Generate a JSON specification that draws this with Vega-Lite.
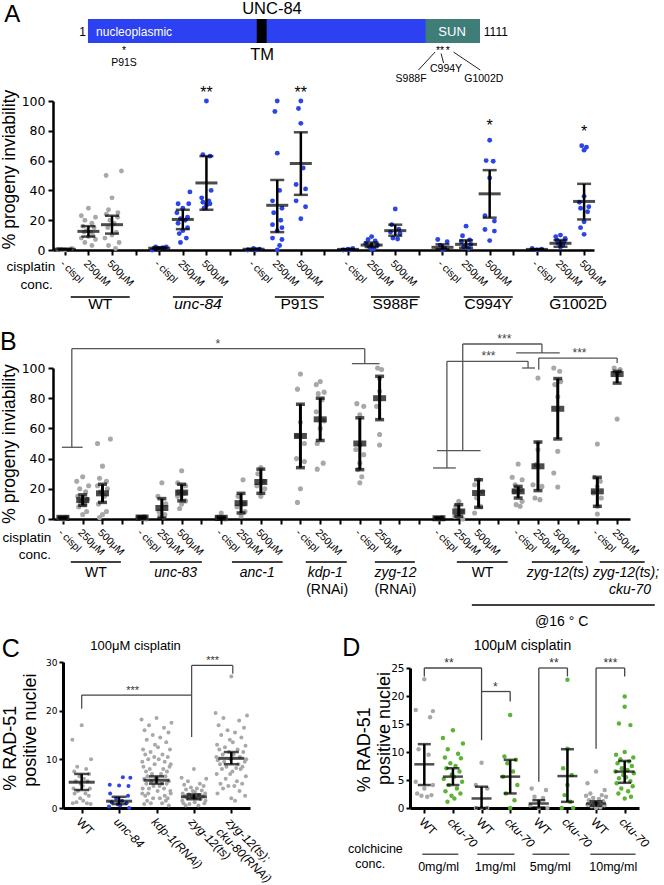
{
"$schema":"https://vega.github.io/schema/vega-lite/v6.json",
"autosize":{"type":"none"},
"padding":{"left":53,"top":0,"right":611,"bottom":885},
"background":"white",
"bounds":"flush",
"spacing":0,
"config":{"view":{"stroke":null},"font":"Liberation Sans","axis":{"grid":false,"domainColor":"#000","tickColor":"#000","labelColor":"#000","titleColor":"#000","titleFontWeight":"normal","labelOverlap":false,"labelFlush":false,"labelBound":false},"text":{"font":"Liberation Sans","color":"#000"}},
"datasets":{
"aPts":[
{"x":0,"y":0,"g":"w"},{"x":-0.3,"y":0.5,"g":"w"},{"x":0.3,"y":1,"g":"w"},{"x":-0.15,"y":0.3,"g":"w"},
{"x":1,"y":28,"g":"w"},{"x":0.7,"y":23,"g":"w"},{"x":1.3,"y":22,"g":"w"},{"x":0.85,"y":20,"g":"w"},{"x":1.15,"y":18,"g":"w"},{"x":0.76,"y":16,"g":"w"},{"x":1.24,"y":15,"g":"w"},{"x":0.91,"y":13,"g":"w"},{"x":1.09,"y":12,"g":"w"},{"x":0.82,"y":12,"g":"w"},{"x":1.18,"y":10,"g":"w"},{"x":1,"y":9,"g":"w"},{"x":0.7,"y":8,"g":"w"},{"x":1.3,"y":7,"g":"w"},{"x":0.85,"y":5,"g":"w"},{"x":1.15,"y":3,"g":"w"},
{"x":2.4,"y":53,"g":"w"},{"x":1.75,"y":50,"g":"w"},{"x":2,"y":35,"g":"w"},{"x":1.85,"y":27,"g":"w"},{"x":2.25,"y":25,"g":"w"},{"x":1.76,"y":24,"g":"w"},{"x":2.24,"y":22,"g":"w"},{"x":1.91,"y":20,"g":"w"},{"x":2.09,"y":18,"g":"w"},{"x":1.82,"y":15,"g":"w"},{"x":2.18,"y":12,"g":"w"},{"x":2,"y":10,"g":"w"},{"x":1.7,"y":8,"g":"w"},{"x":2.3,"y":5,"g":"w"},{"x":1.85,"y":3,"g":"w"},{"x":2.15,"y":1,"g":"w"},
{"x":3.7,"y":0,"g":"u"},{"x":4,"y":1,"g":"u"},{"x":4.3,"y":2,"g":"u"},{"x":3.85,"y":2,"g":"u"},{"x":4.15,"y":1.5,"g":"u"},
{"x":5.3,"y":39,"g":"u"},{"x":4.8,"y":31,"g":"u"},{"x":5.25,"y":31,"g":"u"},{"x":5,"y":28,"g":"u"},{"x":4.75,"y":25,"g":"u"},{"x":5.2,"y":22,"g":"u"},{"x":4.9,"y":21,"g":"u"},{"x":5.1,"y":20,"g":"u"},{"x":4.8,"y":18,"g":"u"},{"x":5.2,"y":15,"g":"u"},{"x":5,"y":13,"g":"u"},{"x":4.85,"y":11,"g":"u"},{"x":5.15,"y":8,"g":"u"},{"x":4.9,"y":5,"g":"u"},
{"x":6,"y":100,"g":"u"},{"x":5.85,"y":64,"g":"u"},{"x":6.15,"y":63,"g":"u"},{"x":6.2,"y":40,"g":"u"},{"x":5.8,"y":35,"g":"u"},{"x":6.1,"y":33,"g":"u"},{"x":5.85,"y":32,"g":"u"},{"x":6.15,"y":31,"g":"u"},{"x":6,"y":30,"g":"u"},{"x":5.9,"y":28,"g":"u"},
{"x":7.75,"y":0,"g":"u"},{"x":8,"y":1,"g":"u"},{"x":8.25,"y":0.5,"g":"u"},{"x":8.1,"y":0,"g":"u"},
{"x":9,"y":100,"g":"u"},{"x":8.9,"y":93,"g":"u"},{"x":9,"y":65,"g":"u"},{"x":9.1,"y":40,"g":"u"},{"x":8.8,"y":33,"g":"u"},{"x":9.2,"y":28,"g":"u"},{"x":8.85,"y":25,"g":"u"},{"x":9.15,"y":20,"g":"u"},{"x":8.8,"y":17,"g":"u"},{"x":9.2,"y":15,"g":"u"},{"x":9,"y":13,"g":"u"},{"x":8.8,"y":8,"g":"u"},{"x":9.2,"y":7,"g":"u"},{"x":9.1,"y":3,"g":"u"},{"x":9,"y":0,"g":"u"},
{"x":10,"y":100,"g":"u"},{"x":9.9,"y":95,"g":"u"},{"x":10,"y":85,"g":"u"},{"x":10.1,"y":55,"g":"u"},{"x":9.8,"y":44,"g":"u"},{"x":10.2,"y":41,"g":"u"},{"x":9.8,"y":33,"g":"u"},{"x":10.2,"y":29,"g":"u"},{"x":10,"y":21,"g":"u"},
{"x":11.8,"y":0,"g":"u"},{"x":12,"y":0.5,"g":"u"},{"x":12.2,"y":1,"g":"u"},{"x":12.1,"y":0,"g":"u"},
{"x":13,"y":9,"g":"u"},{"x":12.85,"y":7,"g":"u"},{"x":13.15,"y":6,"g":"u"},{"x":12.75,"y":4.5,"g":"u"},{"x":13.25,"y":3.3,"g":"u"},{"x":12.9,"y":2.2,"g":"u"},{"x":13.1,"y":1,"g":"u"},{"x":13,"y":0.5,"g":"u"},
{"x":14,"y":27.5,"g":"u"},{"x":13.85,"y":17,"g":"u"},{"x":14.15,"y":14,"g":"u"},{"x":13.8,"y":12,"g":"u"},{"x":14.2,"y":11,"g":"u"},{"x":13.9,"y":8,"g":"u"},{"x":14.1,"y":7.4,"g":"u"},
{"x":15.8,"y":7,"g":"u"},{"x":16.2,"y":5.6,"g":"u"},{"x":15.9,"y":3.3,"g":"u"},{"x":16.1,"y":1,"g":"u"},{"x":16,"y":0,"g":"u"},
{"x":17,"y":16,"g":"u"},{"x":16.85,"y":9.6,"g":"u"},{"x":17.15,"y":6.7,"g":"u"},{"x":16.8,"y":5.6,"g":"u"},{"x":17.2,"y":3.8,"g":"u"},{"x":16.9,"y":2.2,"g":"u"},{"x":17.1,"y":1,"g":"u"},
{"x":18,"y":73.7,"g":"u"},{"x":17.85,"y":60,"g":"u"},{"x":18.15,"y":59.6,"g":"u"},{"x":18,"y":48.4,"g":"u"},{"x":17.8,"y":23,"g":"u"},{"x":18.2,"y":19.4,"g":"u"},{"x":17.8,"y":13.8,"g":"u"},{"x":18.2,"y":12.7,"g":"u"},{"x":18,"y":6.3,"g":"u"},
{"x":19.8,"y":1,"g":"u"},{"x":20,"y":0,"g":"u"},{"x":20.2,"y":0.5,"g":"u"},
{"x":21,"y":10,"g":"u"},{"x":20.8,"y":9,"g":"u"},{"x":21.2,"y":7.8,"g":"u"},{"x":20.85,"y":6.7,"g":"u"},{"x":21.15,"y":5.6,"g":"u"},{"x":20.9,"y":4.5,"g":"u"},{"x":21.1,"y":3.3,"g":"u"},{"x":21,"y":2,"g":"u"},
{"x":21.9,"y":70,"g":"u"},{"x":22.1,"y":69,"g":"u"},{"x":22,"y":67,"g":"u"},{"x":22,"y":36,"g":"u"},{"x":21.8,"y":32,"g":"u"},{"x":22.2,"y":29,"g":"u"},{"x":21.85,"y":28,"g":"u"},{"x":22.15,"y":25.7,"g":"u"},{"x":22,"y":19,"g":"u"},{"x":21.85,"y":15,"g":"u"},{"x":22,"y":10.5,"g":"u"}
],
"aSum":[{"x":0,"m":0.5,"lo":0.2,"hi":0.8},{"x":1,"m":12.5,"lo":9,"hi":16},{"x":2,"m":17,"lo":11,"hi":23},{"x":4,"m":1.2,"lo":0.6,"hi":1.8},{"x":5,"m":20.5,"lo":14,"hi":27},{"x":6,"m":45,"lo":27,"hi":63},{"x":8,"m":0.5,"lo":0.2,"hi":0.8},{"x":9,"m":30,"lo":12,"hi":47},{"x":10,"m":58,"lo":37,"hi":79},{"x":12,"m":0.4,"lo":0.2,"hi":0.6},{"x":13,"m":3.3,"lo":2,"hi":5},{"x":14,"m":13,"lo":9.6,"hi":17},{"x":16,"m":1.8,"lo":0.5,"hi":3.8},{"x":17,"m":3.8,"lo":1.5,"hi":6.5},{"x":18,"m":37.7,"lo":21.7,"hi":53.6},{"x":20,"m":0.4,"lo":0.2,"hi":0.6},{"x":21,"m":4.5,"lo":2.2,"hi":6.7},{"x":22,"m":32.6,"lo":20.5,"hi":44.4}],
"bPts":[
{"x":-0.2,"y":0.5,"g":"w"},{"x":0,"y":0,"g":"w"},{"x":0.2,"y":1,"g":"w"},{"x":0.1,"y":0.5,"g":"w"},
{"x":1,"y":28,"g":"w"},{"x":0.7,"y":25,"g":"w"},{"x":1.3,"y":22,"g":"w"},{"x":0.85,"y":20,"g":"w"},{"x":1.15,"y":18,"g":"w"},{"x":0.75,"y":15,"g":"w"},{"x":1.25,"y":13,"g":"w"},{"x":0.9,"y":12,"g":"w"},{"x":1.1,"y":10,"g":"w"},{"x":0.8,"y":8,"g":"w"},{"x":1.2,"y":5,"g":"w"},{"x":1,"y":3,"g":"w"},
{"x":2.4,"y":53,"g":"w"},{"x":1.75,"y":50,"g":"w"},{"x":2,"y":35,"g":"w"},{"x":1.85,"y":27,"g":"w"},{"x":2.2,"y":25,"g":"w"},{"x":1.75,"y":22,"g":"w"},{"x":2.25,"y":20,"g":"w"},{"x":1.9,"y":18,"g":"w"},{"x":2.1,"y":15,"g":"w"},{"x":1.8,"y":10,"g":"w"},{"x":2.2,"y":5,"g":"w"},{"x":2,"y":3,"g":"w"},{"x":1.85,"y":1,"g":"w"},
{"x":3.8,"y":1,"g":"w"},{"x":4,"y":0.5,"g":"w"},{"x":4.2,"y":0,"g":"w"},{"x":4.1,"y":1.5,"g":"w"},
{"x":5,"y":24,"g":"w"},{"x":4.8,"y":15,"g":"w"},{"x":5.2,"y":10,"g":"w"},{"x":4.85,"y":5,"g":"w"},{"x":5.15,"y":3,"g":"w"},{"x":4.9,"y":2,"g":"w"},{"x":5.1,"y":1,"g":"w"},
{"x":6,"y":32,"g":"w"},{"x":5.8,"y":24,"g":"w"},{"x":6.2,"y":22,"g":"w"},{"x":5.85,"y":18,"g":"w"},{"x":6.15,"y":17,"g":"w"},{"x":5.8,"y":15,"g":"w"},{"x":6.2,"y":12,"g":"w"},{"x":6,"y":10,"g":"w"},{"x":5.9,"y":7,"g":"w"},
{"x":8,"y":4,"g":"w"},{"x":7.8,"y":1,"g":"w"},{"x":8.2,"y":0,"g":"w"},
{"x":9.1,"y":26,"g":"w"},{"x":8.85,"y":15,"g":"w"},{"x":9.15,"y":10,"g":"w"},{"x":8.8,"y":8,"g":"w"},{"x":9.2,"y":5,"g":"w"},{"x":9,"y":2,"g":"w"},
{"x":10,"y":34,"g":"w"},{"x":9.85,"y":30,"g":"w"},{"x":10.15,"y":25,"g":"w"},{"x":9.8,"y":22,"g":"w"},{"x":10.2,"y":20,"g":"w"},{"x":10,"y":15,"g":"w"},
{"x":12,"y":96,"g":"w"},{"x":11.85,"y":86,"g":"w"},{"x":12,"y":64,"g":"w"},{"x":11.8,"y":55,"g":"w"},{"x":12.2,"y":50,"g":"w"},{"x":11.8,"y":40,"g":"w"},{"x":12.2,"y":38,"g":"w"},{"x":12,"y":20,"g":"w"},{"x":11.85,"y":11,"g":"w"},
{"x":13,"y":91,"g":"w"},{"x":12.8,"y":89,"g":"w"},{"x":13.2,"y":84,"g":"w"},{"x":12.9,"y":83,"g":"w"},{"x":13.1,"y":79,"g":"w"},{"x":12.8,"y":71,"g":"w"},{"x":13.2,"y":65,"g":"w"},{"x":13,"y":60,"g":"w"},{"x":12.85,"y":50,"g":"w"},{"x":13.15,"y":37,"g":"w"},{"x":12.85,"y":33,"g":"w"},
{"x":14.85,"y":76.4,"g":"w"},{"x":15.2,"y":74.6,"g":"w"},{"x":15,"y":69,"g":"w"},{"x":15,"y":49,"g":"w"},{"x":14.8,"y":46,"g":"w"},{"x":15.2,"y":42.6,"g":"w"},{"x":15,"y":37,"g":"w"},{"x":14.9,"y":32.7,"g":"w"},{"x":15.1,"y":28,"g":"w"},{"x":15,"y":24,"g":"w"},
{"x":15.9,"y":100,"g":"w"},{"x":16.1,"y":99,"g":"w"},{"x":16,"y":93,"g":"w"},{"x":16,"y":84.5,"g":"w"},{"x":15.85,"y":74.6,"g":"w"},{"x":16,"y":56,"g":"w"},{"x":16,"y":49,"g":"w"},
{"x":18.85,"y":0.5,"g":"w"},{"x":19,"y":0,"g":"w"},{"x":19.15,"y":1,"g":"w"},
{"x":20,"y":11.7,"g":"w"},{"x":19.85,"y":8.4,"g":"w"},{"x":20.15,"y":5,"g":"w"},{"x":20,"y":2.9,"g":"w"},{"x":19.8,"y":1.8,"g":"w"},{"x":20.2,"y":0,"g":"w"},
{"x":21,"y":26,"g":"w"},{"x":20.8,"y":22.7,"g":"w"},{"x":21.2,"y":18.3,"g":"w"},{"x":20.9,"y":14,"g":"w"},{"x":21.1,"y":8.4,"g":"w"},{"x":20.8,"y":4,"g":"w"},
{"x":23,"y":36.4,"g":"w"},{"x":22.7,"y":27.6,"g":"w"},{"x":23.2,"y":26,"g":"w"},{"x":22.85,"y":22.7,"g":"w"},{"x":23.15,"y":19.4,"g":"w"},{"x":22.8,"y":18.3,"g":"w"},{"x":23.2,"y":11.7,"g":"w"},{"x":22.9,"y":9.5,"g":"w"},{"x":23.1,"y":8.4,"g":"w"},
{"x":24,"y":93.4,"g":"w"},{"x":24,"y":50.3,"g":"w"},{"x":24,"y":46,"g":"w"},{"x":23.9,"y":36,"g":"w"},{"x":23.75,"y":22.7,"g":"w"},{"x":24.2,"y":21.6,"g":"w"},{"x":23.85,"y":13.9,"g":"w"},{"x":24.1,"y":12.8,"g":"w"},
{"x":24.8,"y":100,"g":"w"},{"x":25.1,"y":97.8,"g":"w"},{"x":25.15,"y":91,"g":"w"},{"x":24.85,"y":89,"g":"w"},{"x":25,"y":81,"g":"w"},{"x":25,"y":44.8,"g":"w"},{"x":24.8,"y":30.5,"g":"w"},{"x":25,"y":21.2,"g":"w"},
{"x":27,"y":49.7,"g":"w"},{"x":26.85,"y":27.6,"g":"w"},{"x":27.15,"y":25,"g":"w"},{"x":27,"y":21.6,"g":"w"},{"x":26.8,"y":17.2,"g":"w"},{"x":27.2,"y":13.9,"g":"w"},{"x":27,"y":8.4,"g":"w"},{"x":27,"y":3.3,"g":"w"},
{"x":27.85,"y":100,"g":"w"},{"x":28.15,"y":98.9,"g":"w"},{"x":28,"y":96.7,"g":"w"},{"x":28,"y":66.2,"g":"w"}
],
"bSum":[{"x":0,"m":0.8,"lo":0.5,"hi":1.1},{"x":1,"m":12.5,"lo":9,"hi":16},{"x":2,"m":17,"lo":11,"hi":23},{"x":4,"m":1,"lo":0.5,"hi":1.5},{"x":5,"m":7.3,"lo":0.5,"hi":13.5},{"x":6,"m":17.5,"lo":12,"hi":23},{"x":8,"m":0.8,"lo":0.3,"hi":1.3},{"x":9,"m":10.5,"lo":4,"hi":17},{"x":10,"m":24.5,"lo":17,"hi":33},{"x":12,"m":55,"lo":34,"hi":76},{"x":13,"m":66,"lo":52,"hi":80},{"x":15,"m":50,"lo":32.7,"hi":67},{"x":16,"m":80,"lo":65.8,"hi":94.5},{"x":19,"m":0.5,"lo":0.2,"hi":0.8},{"x":20,"m":5,"lo":1.8,"hi":9.5},{"x":21,"m":17.2,"lo":7.7,"hi":26},{"x":23,"m":18.3,"lo":13.9,"hi":21.6},{"x":24,"m":34.9,"lo":18.8,"hi":51},{"x":25,"m":73,"lo":53,"hi":93},{"x":27,"m":18.3,"lo":8.4,"hi":27.6},{"x":28,"m":96,"lo":90,"hi":97.8}],
"bBr":[{"x":0.45,"x2":15.25,"y":112.8,"y2":112.8},{"x":0.45,"x2":0.45,"y":112.8,"y2":47.5},{"x":-0.05,"x2":1.0,"y":47.5,"y2":47.5},{"x":15.25,"x2":15.25,"y":112.8,"y2":102.9},{"x":14.6,"x2":16.0,"y":102.9,"y2":102.9},{"x":20.2,"x2":24.2,"y":115.9,"y2":115.9},{"x":20.2,"x2":20.2,"y":115.9,"y2":45.3},{"x":18.9,"x2":21.1,"y":45.3,"y2":45.3},{"x":24.2,"x2":24.2,"y":115.9,"y2":110},{"x":22.9,"x2":25.1,"y":110,"y2":110},{"x":19.4,"x2":23.5,"y":104.4,"y2":104.4},{"x":19.4,"x2":19.4,"y":104.4,"y2":33.8},{"x":18.7,"x2":19.85,"y":33.8,"y2":33.8},{"x":23.5,"x2":23.5,"y":104.4,"y2":100},{"x":23.2,"x2":23.85,"y":100,"y2":100},{"x":24.04,"x2":28.0,"y":106.6,"y2":106.6},{"x":24.04,"x2":24.04,"y":106.6,"y2":98.9},{"x":28.0,"x2":28.0,"y":106.6,"y2":103.3}],
"cPts":[
{"x":0,"y":17,"g":"w"},{"x":-0.25,"y":14,"g":"w"},{"x":0.25,"y":10,"g":"w"},{"x":-0.12,"y":8.5,"g":"w"},{"x":0.12,"y":8,"g":"w"},{"x":-0.2,"y":7.5,"g":"w"},{"x":0.2,"y":7,"g":"w"},{"x":-0.06,"y":6.5,"g":"w"},{"x":0.06,"y":6,"g":"w"},{"x":-0.16,"y":5.5,"g":"w"},{"x":0.16,"y":5.5,"g":"w"},{"x":-0.03,"y":5,"g":"w"},{"x":0.03,"y":4.5,"g":"w"},{"x":-0.22,"y":4,"g":"w"},{"x":0.22,"y":4,"g":"w"},{"x":-0.1,"y":3.5,"g":"w"},{"x":0.1,"y":3,"g":"w"},{"x":-0.19,"y":3,"g":"w"},{"x":0.19,"y":2.5,"g":"w"},{"x":-0.04,"y":2,"g":"w"},{"x":0.04,"y":1.5,"g":"w"},{"x":-0.14,"y":1.2,"g":"w"},{"x":0.14,"y":1,"g":"w"},{"x":-0.24,"y":1,"g":"w"},{"x":0.24,"y":0.8,"g":"w"},
{"x":1.1,"y":6.3,"g":"u"},{"x":1.3,"y":6.2,"g":"u"},{"x":0.75,"y":4.8,"g":"u"},{"x":1,"y":4.6,"g":"u"},{"x":1.25,"y":4.5,"g":"u"},{"x":0.76,"y":3,"g":"u"},{"x":1.24,"y":2.5,"g":"u"},{"x":0.92,"y":2,"g":"u"},{"x":1.08,"y":1.5,"g":"u"},{"x":0.8,"y":1.2,"g":"u"},{"x":1.2,"y":1,"g":"u"},{"x":0.97,"y":0.7,"g":"u"},{"x":1.03,"y":0.5,"g":"u"},{"x":0.73,"y":0.3,"g":"u"},{"x":1.27,"y":0,"g":"u"},
{"x":2,"y":18.5,"g":"w"},{"x":1.6,"y":18.2,"g":"w"},{"x":2.4,"y":17.5,"g":"w"},{"x":1.8,"y":17,"g":"w"},{"x":2.2,"y":16.5,"g":"w"},{"x":1.68,"y":16,"g":"w"},{"x":2.32,"y":15.5,"g":"w"},{"x":1.9,"y":15,"g":"w"},{"x":2.1,"y":14.5,"g":"w"},{"x":1.74,"y":14,"g":"w"},{"x":2.26,"y":13.5,"g":"w"},{"x":1.96,"y":13,"g":"w"},{"x":2.04,"y":12.5,"g":"w"},{"x":1.64,"y":12,"g":"w"},{"x":2.36,"y":12,"g":"w"},{"x":1.84,"y":11.5,"g":"w"},{"x":2.16,"y":11,"g":"w"},{"x":1.7,"y":11,"g":"w"},{"x":2.3,"y":10.5,"g":"w"},{"x":1.94,"y":10.5,"g":"w"},{"x":2.06,"y":10,"g":"w"},{"x":1.78,"y":10,"g":"w"},{"x":2.22,"y":9.5,"g":"w"},{"x":1.62,"y":9.5,"g":"w"},{"x":2.38,"y":9,"g":"w"},
{"x":1.95,"y":9,"g":"w"},{"x":1.65,"y":8.5,"g":"w"},{"x":2.35,"y":8.5,"g":"w"},{"x":1.82,"y":8,"g":"w"},{"x":2.18,"y":8,"g":"w"},{"x":1.72,"y":7.5,"g":"w"},{"x":2.28,"y":7.5,"g":"w"},{"x":1.88,"y":7,"g":"w"},{"x":2.12,"y":7,"g":"w"},{"x":1.76,"y":6.5,"g":"w"},{"x":2.24,"y":6.5,"g":"w"},{"x":2.02,"y":6,"g":"w"},{"x":1.98,"y":6,"g":"w"},{"x":1.67,"y":6,"g":"w"},{"x":2.33,"y":5.5,"g":"w"},{"x":1.86,"y":5.5,"g":"w"},{"x":2.14,"y":5,"g":"w"},{"x":1.73,"y":5,"g":"w"},{"x":2.27,"y":5,"g":"w"},{"x":1.92,"y":4.5,"g":"w"},{"x":2.08,"y":4.5,"g":"w"},{"x":1.8,"y":4,"g":"w"},{"x":2.2,"y":4,"g":"w"},{"x":1.63,"y":4,"g":"w"},{"x":2.37,"y":3.5,"g":"w"},
{"x":2.03,"y":3.5,"g":"w"},{"x":1.62,"y":3,"g":"w"},{"x":2.38,"y":3,"g":"w"},{"x":1.78,"y":3,"g":"w"},{"x":2.22,"y":2.5,"g":"w"},{"x":1.7,"y":2.5,"g":"w"},{"x":2.3,"y":2,"g":"w"},{"x":1.91,"y":2,"g":"w"},{"x":2.09,"y":2,"g":"w"},{"x":1.75,"y":1.5,"g":"w"},{"x":2.25,"y":1.5,"g":"w"},{"x":1.85,"y":1,"g":"w"},{"x":2.15,"y":1,"g":"w"},{"x":1.67,"y":0.8,"g":"w"},{"x":2.33,"y":0.5,"g":"w"},
{"x":3,"y":8,"g":"w"},{"x":2.67,"y":6.2,"g":"w"},{"x":3.33,"y":6,"g":"w"},{"x":2.84,"y":5.5,"g":"w"},{"x":3.16,"y":5,"g":"w"},{"x":2.74,"y":4.8,"g":"w"},{"x":3.26,"y":4.5,"g":"w"},{"x":2.92,"y":4.2,"g":"w"},{"x":3.08,"y":4,"g":"w"},{"x":2.79,"y":3.8,"g":"w"},{"x":3.21,"y":3.6,"g":"w"},{"x":2.97,"y":3.5,"g":"w"},{"x":3.03,"y":3.3,"g":"w"},{"x":2.7,"y":3,"g":"w"},{"x":3.3,"y":3,"g":"w"},{"x":2.87,"y":2.8,"g":"w"},{"x":3.13,"y":2.7,"g":"w"},{"x":2.75,"y":2.5,"g":"w"},{"x":3.25,"y":2.5,"g":"w"},{"x":2.95,"y":2.2,"g":"w"},{"x":3.05,"y":2,"g":"w"},{"x":2.82,"y":2,"g":"w"},{"x":3.18,"y":1.8,"g":"w"},{"x":2.69,"y":1.5,"g":"w"},{"x":3.31,"y":1.5,"g":"w"},{"x":3.02,"y":1.2,"g":"w"},{"x":2.72,"y":1,"g":"w"},{"x":3.28,"y":1,"g":"w"},{"x":2.88,"y":0.8,"g":"w"},{"x":3.12,"y":0.5,"g":"w"},{"x":2.78,"y":0.5,"g":"w"},
{"x":4,"y":27,"g":"w"},{"x":3.58,"y":19.5,"g":"w"},{"x":4.42,"y":19,"g":"w"},{"x":3.79,"y":18.5,"g":"w"},{"x":4.21,"y":18,"g":"w"},{"x":3.66,"y":17,"g":"w"},{"x":4.34,"y":16.5,"g":"w"},{"x":3.9,"y":16,"g":"w"},{"x":4.1,"y":15.5,"g":"w"},{"x":3.73,"y":15,"g":"w"},{"x":4.27,"y":14.5,"g":"w"},{"x":3.96,"y":14,"g":"w"},{"x":4.04,"y":13.5,"g":"w"},{"x":3.62,"y":13,"g":"w"},{"x":4.38,"y":12.8,"g":"w"},{"x":3.83,"y":12.5,"g":"w"},{"x":4.17,"y":12,"g":"w"},{"x":3.68,"y":12,"g":"w"},{"x":4.32,"y":11.5,"g":"w"},{"x":3.94,"y":11.5,"g":"w"},{"x":4.06,"y":11,"g":"w"},{"x":3.77,"y":11,"g":"w"},{"x":4.23,"y":10.5,"g":"w"},{"x":3.6,"y":10.5,"g":"w"},{"x":4.4,"y":10,"g":"w"},
{"x":3.98,"y":10,"g":"w"},{"x":3.64,"y":9.8,"g":"w"},{"x":4.36,"y":9.5,"g":"w"},{"x":3.81,"y":9.5,"g":"w"},{"x":4.19,"y":9,"g":"w"},{"x":3.7,"y":9,"g":"w"},{"x":4.3,"y":8.5,"g":"w"},{"x":3.87,"y":8.5,"g":"w"},{"x":4.13,"y":8.2,"g":"w"},{"x":3.75,"y":8,"g":"w"},{"x":4.25,"y":8,"g":"w"},{"x":4.03,"y":7.5,"g":"w"},{"x":3.97,"y":7,"g":"w"},{"x":3.61,"y":7,"g":"w"},{"x":4.39,"y":6.5,"g":"w"},{"x":3.85,"y":6,"g":"w"},{"x":4.15,"y":5.5,"g":"w"},{"x":3.71,"y":5,"g":"w"},{"x":4.29,"y":5,"g":"w"},{"x":3.92,"y":4.5,"g":"w"},{"x":4.08,"y":4.5,"g":"w"},{"x":3.78,"y":4,"g":"w"},{"x":4.22,"y":3.5,"g":"w"},{"x":3.63,"y":3,"g":"w"},{"x":4.37,"y":2.5,"g":"w"},{"x":4,"y":2,"g":"w"},{"x":4.1,"y":1.5,"g":"w"}
],
"cSum":[{"x":0,"m":5.3,"lo":3.7,"hi":7.0},{"x":1,"m":1.4,"lo":0.8,"hi":2.3},{"x":2,"m":5.7,"lo":5.0,"hi":6.5},{"x":3,"m":2.3,"lo":1.8,"hi":2.8},{"x":4,"m":10.2,"lo":9.0,"hi":11.5}],
"dPts":[
{"x":0,"y":23,"g":"w"},{"x":-0.3,"y":17.5,"g":"w"},{"x":0.3,"y":17.3,"g":"w"},{"x":0.2,"y":16.2,"g":"w"},{"x":-0.2,"y":10.5,"g":"w"},{"x":0.15,"y":9.5,"g":"w"},{"x":-0.3,"y":4.7,"g":"w"},{"x":0.3,"y":4.1,"g":"w"},{"x":0,"y":3.5,"g":"w"},{"x":-0.25,"y":2.6,"g":"w"},{"x":0.25,"y":2.3,"g":"w"},{"x":-0.1,"y":2.2,"g":"w"},{"x":0.1,"y":2,"g":"w"},
{"x":1,"y":13.9,"g":"k"},{"x":0.65,"y":12.5,"g":"k"},{"x":1.35,"y":11.5,"g":"k"},{"x":0.82,"y":10.5,"g":"k"},{"x":1.18,"y":9.7,"g":"k"},{"x":0.72,"y":9,"g":"k"},{"x":1.28,"y":8.9,"g":"k"},{"x":0.91,"y":8,"g":"k"},{"x":1.09,"y":7.5,"g":"k"},{"x":0.77,"y":7.1,"g":"k"},{"x":1.23,"y":6.5,"g":"k"},{"x":0.96,"y":6,"g":"k"},{"x":1.04,"y":5.6,"g":"k"},{"x":0.68,"y":5.2,"g":"k"},{"x":1.32,"y":4.7,"g":"k"},{"x":0.86,"y":4.1,"g":"k"},{"x":1.14,"y":3.5,"g":"k"},{"x":0.74,"y":3,"g":"k"},{"x":1.26,"y":2.6,"g":"k"},{"x":0.95,"y":2.2,"g":"k"},{"x":1.05,"y":1.7,"g":"k"},{"x":0.81,"y":1.1,"g":"k"},
{"x":2,"y":8.1,"g":"w"},{"x":1.8,"y":4.1,"g":"w"},{"x":2.2,"y":3.5,"g":"w"},{"x":1.8,"y":0,"g":"w"},{"x":2,"y":0,"g":"w"},{"x":2.2,"y":0,"g":"w"},
{"x":3,"y":16.6,"g":"k"},{"x":2.8,"y":9.2,"g":"k"},{"x":3.2,"y":8.6,"g":"k"},{"x":2.9,"y":8,"g":"k"},{"x":3.1,"y":6.5,"g":"k"},{"x":2.75,"y":5.6,"g":"k"},{"x":3.25,"y":4.1,"g":"k"},{"x":2.85,"y":2.6,"g":"k"},{"x":3.15,"y":1.4,"g":"k"},{"x":3,"y":0,"g":"k"},
{"x":3.75,"y":3.5,"g":"w"},{"x":4.25,"y":3.2,"g":"w"},{"x":3.85,"y":2,"g":"w"},{"x":4.15,"y":1.8,"g":"w"},{"x":4,"y":1.1,"g":"w"},{"x":3.7,"y":0.5,"g":"w"},{"x":4.3,"y":0,"g":"w"},{"x":4,"y":0,"g":"w"},
{"x":5,"y":22.9,"g":"k"},{"x":5,"y":10.6,"g":"k"},{"x":4.85,"y":7.1,"g":"k"},{"x":5.15,"y":5.9,"g":"k"},{"x":5,"y":4.1,"g":"k"},{"x":4.9,"y":2.3,"g":"k"},{"x":5.1,"y":1.1,"g":"k"},{"x":4.8,"y":0,"g":"k"},{"x":5.2,"y":0,"g":"k"},
{"x":6,"y":6.5,"g":"w"},{"x":5.7,"y":4.4,"g":"w"},{"x":6.3,"y":3.2,"g":"w"},{"x":5.8,"y":2.6,"g":"w"},{"x":6.2,"y":2.3,"g":"w"},{"x":5.65,"y":2.2,"g":"w"},{"x":6.35,"y":2,"g":"w"},{"x":5.9,"y":1.8,"g":"w"},{"x":6.1,"y":1.6,"g":"w"},{"x":5.75,"y":1.4,"g":"w"},{"x":6.25,"y":1.2,"g":"w"},{"x":5.95,"y":1,"g":"w"},{"x":6.05,"y":0.8,"g":"w"},{"x":5.7,"y":0.6,"g":"w"},{"x":6.3,"y":0.5,"g":"w"},{"x":5.85,"y":0.3,"g":"w"},{"x":6.15,"y":0.1,"g":"w"},{"x":6,"y":0,"g":"w"},
{"x":7,"y":19.9,"g":"k"},{"x":7,"y":18.1,"g":"k"},{"x":6.8,"y":15.1,"g":"k"},{"x":7.2,"y":14.8,"g":"k"},{"x":7,"y":10,"g":"k"},{"x":6.7,"y":9.5,"g":"k"},{"x":7.3,"y":9,"g":"k"},{"x":6.85,"y":8.7,"g":"k"},{"x":7.15,"y":8.3,"g":"k"},{"x":6.75,"y":8,"g":"k"},{"x":7.25,"y":7.5,"g":"k"},{"x":6.9,"y":7.1,"g":"k"},{"x":7.1,"y":6.8,"g":"k"},{"x":6.68,"y":6.5,"g":"k"},{"x":7.32,"y":6.2,"g":"k"},{"x":6.95,"y":5.9,"g":"k"},{"x":7.05,"y":5.5,"g":"k"},{"x":6.8,"y":5.3,"g":"k"},{"x":7.2,"y":4.8,"g":"k"},{"x":6.72,"y":4.4,"g":"k"},{"x":7.28,"y":3.9,"g":"k"},{"x":6.88,"y":3.5,"g":"k"},{"x":7.12,"y":3,"g":"k"},{"x":6.78,"y":2.6,"g":"k"},{"x":7.22,"y":2,"g":"k"},{"x":7,"y":1.7,"g":"k"}
],
"dSum":[{"x":0,"m":7.8,"lo":4.1,"hi":11.4},{"x":1,"m":5.6,"lo":4.1,"hi":7.1},{"x":2,"m":1.7,"lo":0,"hi":3.8},{"x":3,"m":5.6,"lo":2.6,"hi":8.6},{"x":4,"m":0.8,"lo":0.1,"hi":1.4},{"x":5,"m":5.7,"lo":1.1,"hi":10.5},{"x":6,"m":0.8,"lo":0.4,"hi":1.2},{"x":7,"m":6.5,"lo":4.5,"hi":8.4}]
},
"vconcat":[
{
"width":541,"height":85,
"layer":[
{"data":{"values":[{"s":1,"e":1111}]},"mark":{"type":"rect","color":"#2c41f2"},"encoding":{"x":{"field":"s","type":"quantitative","scale":{"domain":[-98,1434],"nice":false,"zero":false},"axis":null},"x2":{"field":"e"},"y":{"datum":19,"type":"quantitative","scale":{"domain":[0,85],"range":[0,85],"nice":false,"zero":false},"axis":null},"y2":{"datum":43}}},
{"data":{"values":[{"s":479,"e":507}]},"mark":{"type":"rect","color":"#000000"},"encoding":{"x":{"field":"s","type":"quantitative","axis":null},"x2":{"field":"e"},"y":{"datum":19,"type":"quantitative","axis":null},"y2":{"datum":43}}},
{"data":{"values":[{"s":957,"e":1111}]},"mark":{"type":"rect","color":"#3f7e78"},"encoding":{"x":{"field":"s","type":"quantitative","axis":null},"x2":{"field":"e"},"y":{"datum":19,"type":"quantitative","axis":null},"y2":{"datum":43}}},
{"data":{"values":[{"x":522,"y":13.5,"t":"UNC-84"},{"x":494,"y":60,"t":"TM"}]},"mark":{"type":"text","fontSize":16.5,"align":"center","baseline":"alphabetic"},"encoding":{"x":{"field":"x","type":"quantitative","axis":null},"y":{"field":"y","type":"quantitative","axis":null},"text":{"field":"t"}}},
{"data":{"values":[{"x":24,"y":35.5,"t":"nucleoplasmic"}]},"mark":{"type":"text","fontSize":12,"align":"left","baseline":"alphabetic","color":"white"},"encoding":{"x":{"field":"x","type":"quantitative","axis":null},"y":{"field":"y","type":"quantitative","axis":null},"text":{"field":"t"}}},
{"data":{"values":[{"x":1032,"y":36,"t":"SUN"}]},"mark":{"type":"text","fontSize":13,"align":"center","baseline":"alphabetic","color":"white"},"encoding":{"x":{"field":"x","type":"quantitative","axis":null},"y":{"field":"y","type":"quantitative","axis":null},"text":{"field":"t"}}},
{"data":{"values":[{"x":-5,"y":36,"t":"1"}]},"mark":{"type":"text","fontSize":12,"align":"right","baseline":"alphabetic"},"encoding":{"x":{"field":"x","type":"quantitative","axis":null},"y":{"field":"y","type":"quantitative","axis":null},"text":{"field":"t"}}},
{"data":{"values":[{"x":1122,"y":36,"t":"1111"}]},"mark":{"type":"text","fontSize":12,"align":"left","baseline":"alphabetic"},"encoding":{"x":{"field":"x","type":"quantitative","axis":null},"y":{"field":"y","type":"quantitative","axis":null},"text":{"field":"t"}}},
{"data":{"values":[{"x":103,"y":65.7,"t":"P91S"},{"x":916,"y":81.5,"t":"S988F"},{"x":1015,"y":71.5,"t":"C994Y"},{"x":1122,"y":81.5,"t":"G1002D"},{"x":103,"y":54,"t":"*"},{"x":998,"y":54,"t":"**"},{"x":1020,"y":54,"t":"*"}]},"mark":{"type":"text","fontSize":10.5,"align":"center","baseline":"alphabetic"},"encoding":{"x":{"field":"x","type":"quantitative","axis":null},"y":{"field":"y","type":"quantitative","axis":null},"text":{"field":"t"}}},
{"data":{"values":[{"x":937,"y":70,"x2":984,"y2":52},{"x":1008,"y":63,"x2":1001,"y2":53.5},{"x":1112,"y":70,"x2":1036,"y2":52}]},"mark":{"type":"rule","strokeWidth":1,"color":"#222"},"encoding":{"x":{"field":"x","type":"quantitative","axis":null},"y":{"field":"y","type":"quantitative","axis":null},"x2":{"field":"x2"},"y2":{"field":"y2"}}},
{"data":{"values":[{"x":-236,"y":21.5,"t":"A"}]},"mark":{"type":"text","fontSize":24,"align":"left","baseline":"alphabetic"},"encoding":{"x":{"field":"x","type":"quantitative","axis":null},"y":{"field":"y","type":"quantitative","axis":null},"text":{"field":"t"}}}
]
},
{
"width":541,"height":165,
"encoding":{
"x":{"field":"x","type":"quantitative","scale":{"domain":[-0.5,22.42],"nice":false,"zero":false},"axis":{"values":[0,1,2,3,4,5,6,7,8,9,10,11,12,13,14,15,16,17,18,19,20,21,22],"labelExpr":"['- cispl','250μM','500μM',''][datum.value % 4]","labelOverlap":false,"labelSeparation":0,"labelAngle":45,"labelAlign":"left","labelBaseline":"top","labelFontSize":10.5,"labelFont":"Liberation Sans","labelPadding":3,"tickSize":5,"tickWidth":2,"domainWidth":2.5,"title":null}},
"y":{"field":"y","type":"quantitative","scale":{"domain":[0,100],"range":[165,16],"nice":false,"zero":false},"axis":{"values":[0,20,40,60,80,100],"labelOverlap":false,"labelSeparation":0,"labelFont":"DejaVu Sans","labelFontSize":12.5,"labelPadding":3,"tickSize":5,"tickWidth":2,"domainWidth":2.5,"title":"% progeny inviability","titleFontSize":17.5,"titleFont":"Liberation Sans","titleX":-43.5,"titleY":84,"titleAlign":"center","titleBaseline":"middle","titleAngle":-90}}
},
"layer":[
{"data":{"name":"aPts"},"mark":{"type":"circle","size":24,"opacity":1},"encoding":{"color":{"field":"g","type":"nominal","scale":{"domain":["w","u","k"],"range":["#a8a8a8","#2c46e6","#5db336"]},"legend":null}}},
{"data":{"name":"aSum"},"transform":[{"fold":["lo"],"as":["k","y"]}],"mark":{"type":"rule","strokeWidth":2.5,"color":"#000"},"encoding":{"y2":{"field":"hi"}}},
{"data":{"name":"aSum"},"transform":[{"fold":["lo","hi"],"as":["k","y"]}],"mark":{"type":"tick","orient":"horizontal","size":14,"thickness":2.5,"color":"#000"}},
{"data":{"name":"aSum"},"transform":[{"fold":["m"],"as":["k","y"]}],"mark":{"type":"tick","orient":"horizontal","size":22,"thickness":3,"color":"#000"}},
{"data":{"values":[{"x":6,"y":102,"t":"**"},{"x":10,"y":102,"t":"**"},{"x":18,"y":80,"t":"*"},{"x":22,"y":76,"t":"*"}]},"mark":{"type":"text","fontSize":16,"align":"center","baseline":"alphabetic"},"encoding":{"text":{"field":"t"}}},
{"data":{"values":[{"x":-1.44,"y":-11.4,"t":"cisplatin"},{"x":-1.19,"y":-23.5,"t":"conc."}]},"mark":{"type":"text","fontSize":13.5,"align":"center","baseline":"middle"},"encoding":{"text":{"field":"t"}}},
{"data":{"values":[{"x":0.25,"x2":2.75,"y":-31.5},{"x":4.58,"x2":6.7,"y":-31.5},{"x":8.9,"x2":10.98,"y":-31.5},{"x":12.97,"x2":15.04,"y":-31.5},{"x":16.9,"x2":18.98,"y":-31.5},{"x":20.7,"x2":22.8,"y":-31.5}]},"mark":{"type":"rule","strokeWidth":1.6,"color":"#000"},"encoding":{"x2":{"field":"x2"}}},
{"data":{"values":[{"x":1.5,"y":-36.3,"t":"WT"},{"x":9.94,"y":-36.3,"t":"P91S"},{"x":14.0,"y":-36.3,"t":"S988F"},{"x":17.94,"y":-36.3,"t":"C994Y"},{"x":21.75,"y":-36.3,"t":"G1002D"}]},"mark":{"type":"text","fontSize":15.5,"align":"center","baseline":"middle"},"encoding":{"text":{"field":"t"}}},
{"data":{"values":[{"x":5.64,"y":-36.3,"t":"unc-84"}]},"mark":{"type":"text","fontSize":15.5,"align":"center","baseline":"middle","fontStyle":"italic"},"encoding":{"text":{"field":"t"}}}
]
},
{
"width":577,"height":269,
"encoding":{
"x":{"field":"x","type":"quantitative","scale":{"domain":[-0.5,28.65],"nice":false,"zero":false},"axis":{"values":[0,1,2,3,4,5,6,7,8,9,10,11,12,13,14,15,16,17,18,19,20,21,22,23,24,25,26,27,28],"labelExpr":"['- cispl','250μM','500μM','','- cispl','250μM','500μM','','- cispl','250μM','500μM','','- cispl','250μM','','- cispl','250μM','','','- cispl','250μM','500μM','','- cispl','250μM','500μM','','- cispl','250μM'][datum.value]","labelOverlap":false,"labelSeparation":0,"labelAngle":45,"labelAlign":"left","labelBaseline":"top","labelFontSize":10.5,"labelFont":"Liberation Sans","labelPadding":3,"tickSize":5,"tickWidth":2,"domainWidth":2.5,"title":null}},
"y":{"field":"y","type":"quantitative","scale":{"domain":[0,100],"range":[269,118],"nice":false,"zero":false},"axis":{"values":[0,20,40,60,80,100],"labelOverlap":false,"labelSeparation":0,"labelFont":"DejaVu Sans","labelFontSize":12.5,"labelPadding":3,"tickSize":5,"tickWidth":2,"domainWidth":2.5,"title":"% progeny inviability","titleFontSize":17.5,"titleFont":"Liberation Sans","titleX":-43.5,"titleY":193.5,"titleAlign":"center","titleBaseline":"middle","titleAngle":-90}}
},
"layer":[
{"data":{"name":"bPts"},"mark":{"type":"circle","size":26,"opacity":1},"encoding":{"color":{"field":"g","type":"nominal","scale":{"domain":["w","u","k"],"range":["#a8a8a8","#2c46e6","#5db336"]},"legend":null}}},
{"data":{"name":"bBr"},"mark":{"type":"rule","strokeWidth":1.3,"color":"#555"},"encoding":{"x2":{"field":"x2"},"y2":{"field":"y2"}}},
{"data":{"name":"bSum"},"transform":[{"fold":["lo"],"as":["k","y"]}],"mark":{"type":"rule","strokeWidth":3,"color":"#000"},"encoding":{"y2":{"field":"hi"}}},
{"data":{"name":"bSum"},"transform":[{"fold":["lo","hi"],"as":["k","y"]}],"mark":{"type":"tick","orient":"horizontal","size":9,"thickness":3.5,"color":"#000"}},
{"data":{"name":"bSum"},"transform":[{"fold":["m"],"as":["k","y"]}],"mark":{"type":"tick","orient":"horizontal","size":13,"thickness":6,"color":"#000"}},
{"data":{"values":[{"x":7.83,"y":112.8,"t":"*"},{"x":22.3,"y":115.9,"t":"***"},{"x":21.5,"y":104.4,"t":"***"},{"x":26.1,"y":106.6,"t":"***"}]},"mark":{"type":"text","fontSize":12,"align":"center","baseline":"alphabetic","color":"#444","dy":-1},"encoding":{"text":{"field":"t"}}},
{"data":{"values":[{"x":-1.82,"y":-12.6,"t":"cisplatin"},{"x":-1.41,"y":-23.8,"t":"conc."}]},"mark":{"type":"text","fontSize":13.5,"align":"center","baseline":"middle"},"encoding":{"text":{"field":"t"}}},
{"data":{"values":[{"x":0.4,"x2":2.93,"y":-28.5},{"x":4.39,"x2":7.02,"y":-28.5},{"x":8.54,"x2":11.1,"y":-28.5},{"x":12.27,"x2":14.34,"y":-28.5},{"x":15.76,"x2":17.78,"y":-28.5},{"x":19.9,"x2":22.47,"y":-28.5},{"x":23.69,"x2":26.26,"y":-28.5},{"x":27.12,"x2":29.39,"y":-28.5},{"x":20.66,"x2":29.9,"y":-57}]},"mark":{"type":"rule","strokeWidth":1.6,"color":"#000"},"encoding":{"x2":{"field":"x2"}}},
{"data":{"values":[{"x":1.67,"y":-35.8,"t":"WT"},{"x":21.2,"y":-35.8,"t":"WT"},{"x":13.35,"y":-47,"t":"(RNAi)"},{"x":16.8,"y":-47,"t":"(RNAi)"},{"x":25.2,"y":-68.2,"t":"@16 ° C"}]},"mark":{"type":"text","fontSize":14,"align":"center","baseline":"middle"},"encoding":{"text":{"field":"t"}}},
{"data":{"values":[{"x":5.7,"y":-35.8,"t":"unc-83"},{"x":9.82,"y":-35.8,"t":"anc-1"},{"x":13.25,"y":-35.8,"t":"kdp-1"},{"x":16.8,"y":-35.8,"t":"zyg-12"},{"x":25.0,"y":-35.8,"t":"zyg-12(ts)"},{"x":28.45,"y":-35.8,"t":"zyg-12(ts);"},{"x":28.65,"y":-47,"t":"cku-70"}]},"mark":{"type":"text","fontSize":14,"align":"center","baseline":"middle","fontStyle":"italic"},"encoding":{"text":{"field":"t"}}},
{"data":{"values":[{"x":-3.18,"y":111.9,"t":"B"}]},"mark":{"type":"text","fontSize":25,"align":"left","baseline":"alphabetic"},"encoding":{"text":{"field":"t"}}}
]
},
{
"hconcat":[
{
"width":197,"height":289,
"encoding":{
"x":{"field":"x","type":"quantitative","scale":{"domain":[-0.5,4.5],"range":[10,197],"nice":false,"zero":false},"axis":{"values":[0,1,2,3,4],"labelExpr":"[['WT'],['unc-84'],['kdp-1(RNAi)'],['zyg-12(ts)'],['zyg-12(ts);','cku-80(RNAi)']][datum.value]","labelOverlap":false,"labelSeparation":0,"labelAngle":45,"labelAlign":"left","labelBaseline":"top","labelFontSize":12,"labelFont":"Liberation Sans","labelFontStyle":{"condition":{"test":"datum.value == 0","value":"normal"},"value":"italic"},"labelPadding":3,"tickSize":5,"tickWidth":2,"domainWidth":3,"title":null}},
"y":{"field":"y","type":"quantitative","scale":{"domain":[0,30],"range":[289,143],"nice":false,"zero":false},"axis":{"values":[0,10,20,30],"labelOverlap":false,"labelSeparation":0,"offset":-10,"labelFont":"DejaVu Sans","labelFontSize":9,"labelPadding":2,"tickSize":4,"tickWidth":2,"domainWidth":3,"title":null}}
},
"layer":[
{"data":{"name":"cPts"},"mark":{"type":"circle","size":16,"opacity":1},"encoding":{"color":{"field":"g","type":"nominal","scale":{"domain":["w","u","k"],"range":["#a8a8a8","#2c46e6","#5db336"]},"legend":null}}},
{"data":{"values":[{"x":0,"x2":2.94,"y":23.2,"y2":23.2},{"x":0,"x2":0,"y":23.2,"y2":20.4},{"x":2.94,"x2":2.94,"y":29.3,"y2":14.6},{"x":2.94,"x2":4.04,"y":29.3,"y2":29.3},{"x":4.04,"x2":4.04,"y":29.3,"y2":27.6}]},"mark":{"type":"rule","strokeWidth":1.2,"color":"#444"},"encoding":{"x2":{"field":"x2"},"y2":{"field":"y2"}}},
{"data":{"name":"cSum"},"transform":[{"fold":["lo"],"as":["k","y"]}],"mark":{"type":"rule","strokeWidth":2.5,"color":"#000"},"encoding":{"y2":{"field":"hi"}}},
{"data":{"name":"cSum"},"transform":[{"fold":["lo","hi"],"as":["k","y"]}],"mark":{"type":"tick","orient":"horizontal","size":15,"thickness":2.5,"color":"#000"}},
{"data":{"name":"cSum"},"transform":[{"fold":["m"],"as":["k","y"]}],"mark":{"type":"tick","orient":"horizontal","size":26,"thickness":3,"color":"#000"}},
{"data":{"values":[{"x":1.36,"y":23.2,"t":"***"},{"x":3.5,"y":29.3,"t":"***"}]},"mark":{"type":"text","fontSize":11,"align":"center","baseline":"alphabetic","color":"#333","dy":-1},"encoding":{"text":{"field":"t"}}},
{"data":{"values":[{"x":1.44,"y":32.4,"t":"100μM cisplatin"}]},"mark":{"type":"text","fontSize":13,"align":"center","baseline":"alphabetic"},"encoding":{"text":{"field":"t"}}},
{"data":{"values":[{"x":-1.89,"y":12.3,"t":"% RAD-51"},{"x":-1.35,"y":16.0,"t":"positive nuclei"}]},"mark":{"type":"text","fontSize":18,"align":"center","baseline":"middle","angle":270},"encoding":{"text":{"field":"t"}}},
{"data":{"values":[{"x":-2.14,"y":31.0,"t":"C"}]},"mark":{"type":"text","fontSize":25,"align":"left","baseline":"alphabetic"},"encoding":{"text":{"field":"t"}}}
]
},
{
"width":229,"height":289,
"encoding":{
"x":{"field":"x","type":"quantitative","scale":{"domain":[-0.5,7.5],"nice":false,"zero":false},"axis":{"values":[0,1,2,3,4,5,6,7],"labelExpr":"datum.value % 2 == 0 ? 'WT' : 'cku-70'","labelOverlap":false,"labelSeparation":0,"labelAngle":45,"labelAlign":"left","labelBaseline":"top","labelFontSize":12,"labelFont":"Liberation Sans","labelFontStyle":{"condition":{"test":"datum.value % 2 == 0","value":"normal"},"value":"italic"},"labelPadding":3,"tickSize":5,"tickWidth":2,"domainWidth":3,"title":null}},
"y":{"field":"y","type":"quantitative","scale":{"domain":[0,25],"range":[289,149],"nice":false,"zero":false},"axis":{"values":[0,5,10,15,20,25],"labelOverlap":false,"labelSeparation":0,"labelFont":"DejaVu Sans","labelFontSize":10.5,"labelPadding":2,"tickSize":4,"tickWidth":2,"domainWidth":3,"title":null}}
},
"layer":[
{"data":{"name":"dPts"},"mark":{"type":"circle","size":20,"opacity":1},"encoding":{"color":{"field":"g","type":"nominal","scale":{"domain":["w","u","k"],"range":["#a8a8a8","#2c46e6","#5db336"]},"legend":null}}},
{"data":{"values":[{"x":0,"x2":2,"y":25,"y2":25},{"x":0,"x2":0,"y":25,"y2":23.5},{"x":2,"x2":2,"y":25,"y2":12.1},{"x":2,"x2":3,"y":20.8,"y2":20.8},{"x":3,"x2":3,"y":20.8,"y2":19.0},{"x":4,"x2":5,"y":25,"y2":25},{"x":4,"x2":4,"y":25,"y2":4.7},{"x":5,"x2":5,"y":25,"y2":23.5},{"x":6,"x2":7,"y":25,"y2":25},{"x":6,"x2":6,"y":25,"y2":10.6},{"x":7,"x2":7,"y":25,"y2":23.5}]},"mark":{"type":"rule","strokeWidth":1.3,"color":"#444"},"encoding":{"x2":{"field":"x2"},"y2":{"field":"y2"}}},
{"data":{"name":"dSum"},"transform":[{"fold":["lo"],"as":["k","y"]}],"mark":{"type":"rule","strokeWidth":2.5,"color":"#000"},"encoding":{"y2":{"field":"hi"}}},
{"data":{"name":"dSum"},"transform":[{"fold":["lo","hi"],"as":["k","y"]}],"mark":{"type":"tick","orient":"horizontal","size":13,"thickness":2.5,"color":"#000"}},
{"data":{"name":"dSum"},"transform":[{"fold":["m"],"as":["k","y"]}],"mark":{"type":"tick","orient":"horizontal","size":20,"thickness":2.5,"color":"#000"}},
{"data":{"values":[{"x":0.86,"y":25,"t":"**"},{"x":2.48,"y":20.8,"t":"*"},{"x":4.53,"y":25,"t":"**"},{"x":6.5,"y":25,"t":"***"}]},"mark":{"type":"text","fontSize":12,"align":"center","baseline":"alphabetic","color":"#333","dy":-1},"encoding":{"text":{"field":"t"}}},
{"data":{"values":[{"x":3.43,"y":28.3,"t":"100μM cisplatin"}]},"mark":{"type":"text","fontSize":14,"align":"center","baseline":"alphabetic"},"encoding":{"text":{"field":"t"}}},
{"data":{"values":[{"x":-2.06,"y":10.4,"t":"% RAD-51"},{"x":-1.36,"y":14.2,"t":"positive nuclei"}]},"mark":{"type":"text","fontSize":18,"align":"center","baseline":"middle","angle":270},"encoding":{"text":{"field":"t"}}},
{"data":{"values":[{"x":-1.71,"y":-8.06,"t":"colchicine"},{"x":-1.89,"y":-10.75,"t":"conc."},{"x":0.5,"y":-11.3,"t":"0mg/ml"},{"x":2.48,"y":-11.3,"t":"1mg/ml"},{"x":4.4,"y":-11.3,"t":"5mg/ml"},{"x":6.6,"y":-11.3,"t":"10mg/ml"}]},"mark":{"type":"text","fontSize":12.5,"align":"center","baseline":"alphabetic"},"encoding":{"text":{"field":"t"}}},
{"data":{"values":[{"x":-0.07,"x2":1.19,"y":-8.24},{"x":1.85,"x2":3.15,"y":-8.24},{"x":3.78,"x2":5.07,"y":-8.24},{"x":5.8,"x2":7.38,"y":-8.24}]},"mark":{"type":"rule","strokeWidth":1.5,"color":"#555"},"encoding":{"x2":{"field":"x2"}}},
{"data":{"values":[{"x":-2.87,"y":27.1,"t":"D"}]},"mark":{"type":"text","fontSize":25,"align":"left","baseline":"alphabetic"},"encoding":{"text":{"field":"t"}}}
]
}
],
"spacing":160,
"bounds":"flush"
}
]
}
